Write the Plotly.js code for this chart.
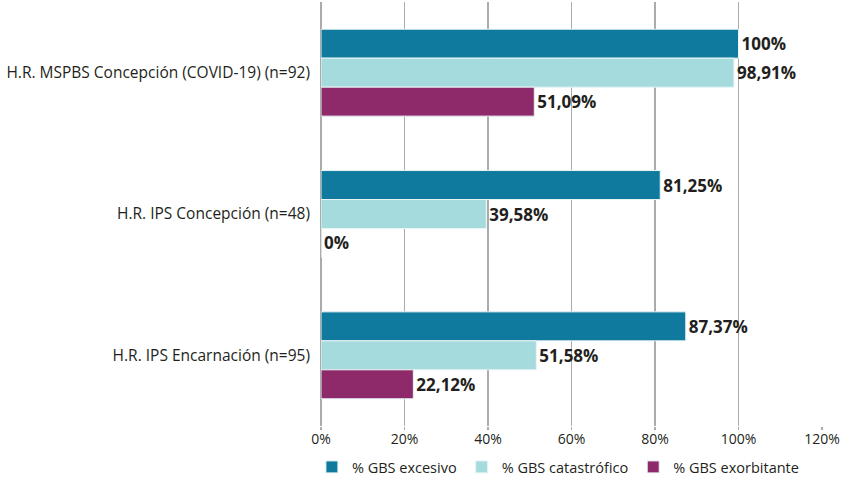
<!DOCTYPE html>
<html><head><meta charset="utf-8">
<script src="https://cdn.plot.ly/plotly-3.0.1.min.js"></script>
<style>html,body{margin:0;padding:0;background:#fff;}#chart{width:843px;height:477px;}</style>
</head><body><div id="chart"></div>
<script>
var categories = ["H.R. MSPBS Concepción (COVID-19) (n=92)", "H.R. IPS Concepción (n=48)", "H.R. IPS Encarnación (n=95)"];
var seriesNames = ["% GBS excesivo", "% GBS catastrófico", "% GBS exorbitante"];
var excesivo = [100, 81.25, 87.37];
var catastrofico = [98.91, 39.58, 51.58];
var exorbitante = [51.09, 0, 22.12];
var xTicks = [0, 20, 40, 60, 80, 100, 120];
var colors = ["#107a9e", "#a5dbdc", "#8e2a6a"];

function fmt(v){ return (Math.round(v*100)/100).toString().replace('.', ',') + '%'; }

var series = [excesivo, catastrofico, exorbitante];
var traces = series.map(function(vals, i){
  return {
    type: 'bar', orientation: 'h',
    name: seriesNames[i],
    y: categories, x: vals,
    text: vals.map(fmt),
    textposition: 'outside',
    cliponaxis: false,
    textfont: {family: 'Open Sans, sans-serif', size: 17, color: '#231f20', weight: 700},
    marker: {color: colors[i], line: {color: '#e8f4f6', width: 1}},
    hoverinfo: 'x+y'
  };
});

var layout = {
  width: 843, height: 477,
  margin: {l: 321, r: 21, t: 2, b: 51, autoexpand: false},
  barmode: 'group',
  bargap: 0.385, bargroupgap: 0,
  paper_bgcolor: '#fff', plot_bgcolor: '#fff',
  font: {family: 'Open Sans, sans-serif', size: 13, color: '#231f20'},
  xaxis: {
    range: [0, 120], tickvals: xTicks, ticktext: xTicks.map(function(t){return t+'%';}),
    showgrid: true, gridcolor: '#ababab', gridwidth: 1.5,
    zeroline: true, zerolinecolor: '#ababab', zerolinewidth: 1.5,
    ticks: 'outside', ticklen: 3, tickcolor: '#ababab', tickwidth: 1.5,
    ticklabelstandoff: -3,
    showline: false, fixedrange: true, automargin: false,
    tickfont: {size: 14, color: '#231f20'}
  },
  yaxis: {
    type: 'category', autorange: 'reversed',
    showgrid: false, zeroline: false, showline: false, ticks: '',
    ticklabelstandoff: 10, automargin: false,
    tickfont: {size: 15.5, color: '#231f20'}
  },
  showlegend: true,
  legend: {
    orientation: 'h', x: 0.37, xref: 'container', xanchor: 'left',
    y: 0.021, yref: 'container', yanchor: 'middle',
    bgcolor: 'rgba(0,0,0,0)',
    font: {size: 14.5, color: '#231f20'}, traceorder: 'normal',
    itemwidth: 30
  }
};

Plotly.newPlot('chart', traces, layout, {displayModeBar: false, staticPlot: true});
</script></body></html>
